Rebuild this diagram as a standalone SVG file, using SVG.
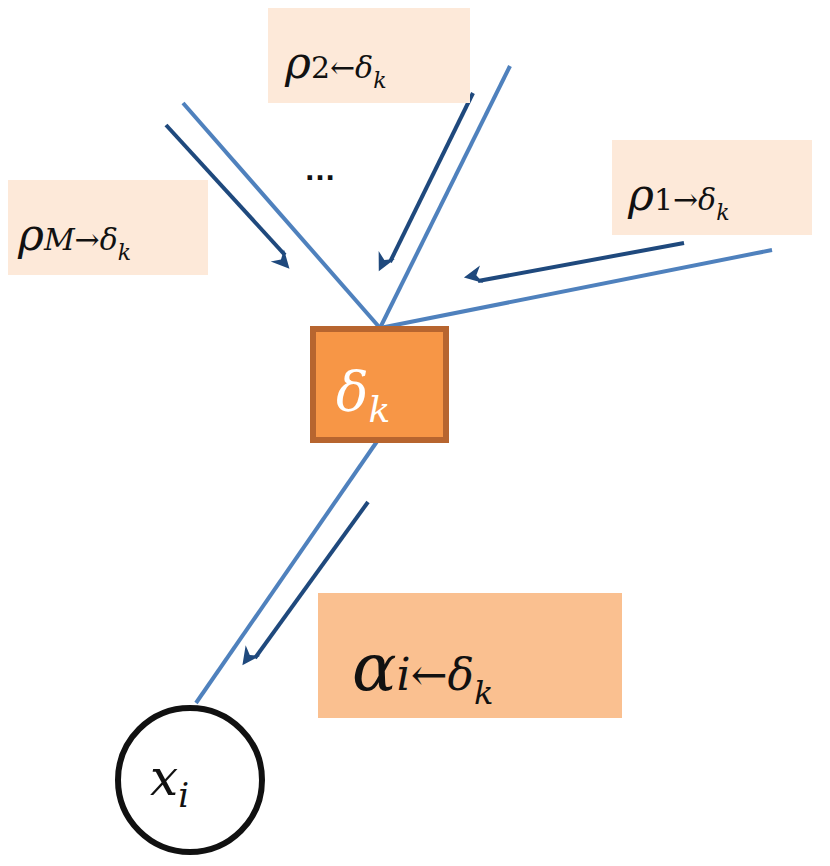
<svg xmlns="http://www.w3.org/2000/svg" width="830" height="866" viewBox="0 0 830 866">
<defs>
<style>
.lbl{fill:#fde9d9}
.edge{stroke:#4f81bd;stroke-width:4;fill:none}
.msg{stroke:#1f497d;stroke-width:4;fill:none;marker-end:url(#ah)}
.t{font-family:"DejaVu Serif","Liberation Serif",serif;font-style:italic;fill:#111}
</style>
<marker id="ah" viewBox="0 0 10 10" refX="8" refY="5" markerWidth="6" markerHeight="6" orient="auto" markerUnits="userSpaceOnUse" style="overflow:visible">
<path d="M0,0 L10,5 L0,10 L3,5 z" fill="#1f497d" transform="scale(3) translate(-6,-5) translate(6,5)"/>
</marker>
</defs>
<g id="connectors">
<line class="edge" x1="380" y1="328" x2="183" y2="103"/>
<line class="edge" x1="380" y1="328" x2="510" y2="66"/>
<line class="edge" x1="380" y1="328" x2="772" y2="250"/>
<line class="edge" x1="378" y1="440" x2="196" y2="703"/>
<line class="msg" x1="166" y1="125" x2="285" y2="255"/>
<line class="msg" x1="473" y1="93" x2="390" y2="262"/>
<line class="msg" x1="684" y1="243" x2="478" y2="281"/>
<line class="msg" x1="368" y1="502" x2="255" y2="658"/>
</g>
<g id="label-rho2"><rect class="lbl" x="268" y="8" width="202" height="95"/>
<text class="t" x="285" y="78" font-size="44">ρ<tspan font-style="normal" font-size="30">2←</tspan><tspan font-size="30">δ</tspan><tspan font-size="22" dy="10">k</tspan></text></g>
<g id="label-rhoM"><rect class="lbl" x="8" y="180" width="200" height="95"/>
<text class="t" x="18" y="250" font-size="44">ρ<tspan font-size="30">M</tspan><tspan font-style="normal" font-size="30">→</tspan><tspan font-size="30">δ</tspan><tspan font-size="22" dy="10">k</tspan></text></g>
<g id="label-rho1"><rect class="lbl" x="612" y="140" width="200" height="95"/>
<text class="t" x="628" y="210" font-size="44">ρ<tspan font-style="normal" font-size="30">1→</tspan><tspan font-size="30">δ</tspan><tspan font-size="22" dy="10">k</tspan></text></g>
<g id="dots"><text x="320" y="180" font-family="Liberation Sans,sans-serif" font-size="32" font-weight="bold" text-anchor="middle" fill="#111">…</text></g>
<g id="label-alpha"><rect x="318" y="593" width="304" height="125" fill="#fac090"/>
<text class="t" x="352" y="690" font-size="66">α<tspan font-size="44">i</tspan><tspan font-style="normal" font-size="44">←</tspan><tspan font-size="44">δ</tspan><tspan font-size="32" dy="14">k</tspan></text></g>
<g id="node-delta"><rect x="313" y="329" width="133" height="111" fill="#f79646" stroke="#b7652f" stroke-width="6"/>
<text class="t" x="336" y="410" font-size="54" fill="#fff" style="fill:#fff">δ<tspan font-size="36" dy="12">k</tspan></text></g>
<g id="node-x"><circle cx="190" cy="780" r="72" fill="#fff" stroke="#111" stroke-width="6"/>
<text class="t" x="150" y="795" font-size="50">x<tspan font-size="34" dy="12">i</tspan></text></g>
</svg>
